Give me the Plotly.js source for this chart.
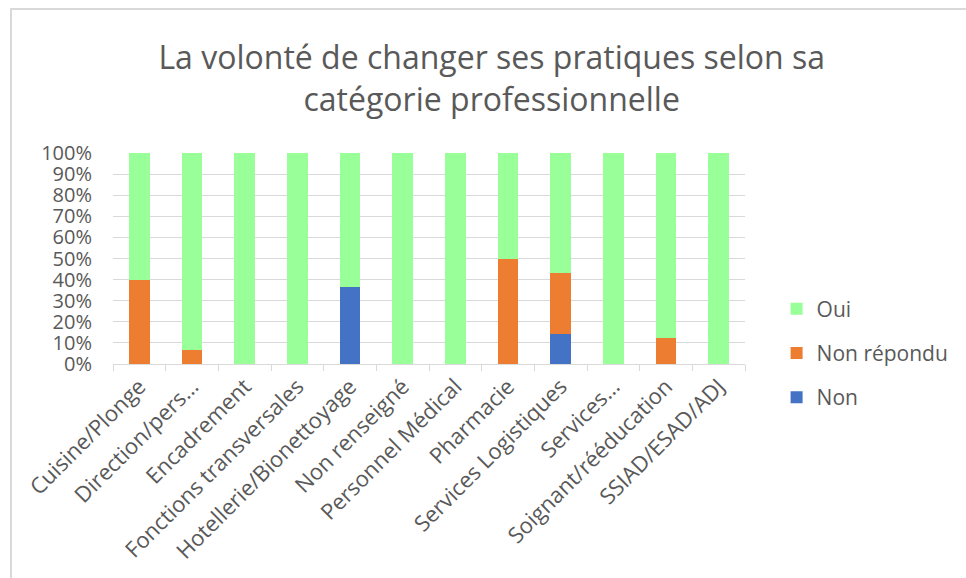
<!DOCTYPE html>
<html>
<head>
<meta charset="utf-8">
<script src="https://cdn.plot.ly/plotly-3.0.1.min.js"></script>
<style>
html,body{margin:0;padding:0;background:#fff;}
#wrap{position:relative;width:966px;height:578px;overflow:hidden;}
#chart{position:absolute;left:0;top:0;width:966px;height:578px;}
#frame{position:absolute;left:10px;top:8px;width:1000px;height:600px;border-left:2px solid #d9d9d9;border-top:2px solid #d9d9d9;pointer-events:none;}
</style>
</head>
<body>
<div id="wrap"><div id="chart"></div><div id="frame"></div></div>
<script>
const categories = ["Cuisine/Plonge","Direction/pers…","Encadrement","Fonctions transversales","Hotellerie/Bionettoyage","Non renseigné","Personnel Médical","Pharmacie","Services Logistiques","Services…","Soignant/rééducation","SSIAD/ESAD/ADJ"];
const nonValues        = [0, 0, 0, 0, 36.4, 0, 0, 0, 14.3, 0, 0, 0];
const nonReponduValues = [40, 6.7, 0, 0, 0, 0, 0, 50, 28.6, 0, 12.5, 0];
const ouiValues        = [60, 93.3, 100, 100, 63.6, 100, 100, 50, 57.1, 100, 87.5, 100];
const yTickVals = [0,10,20,30,40,50,60,70,80,90,100];
const yTickText = ["0%","10%","20%","30%","40%","50%","60%","70%","80%","90%","100%"];

const FONT = "Open Sans, Noto Sans, sans-serif";
const GREY = "#595959";

const traces = [
  {name:"Non", x:categories, y:nonValues, type:"bar", marker:{color:"#4472C4"}, legendgroup:"c", legendrank:3},
  {name:"Non répondu", x:categories, y:nonReponduValues, type:"bar", marker:{color:"#ED7D31"}, legendgroup:"b", legendrank:2},
  {name:"Oui", x:categories, y:ouiValues, type:"bar", marker:{color:"#99FF99"}, legendgroup:"a", legendrank:1}
];

const layout = {
  width:966, height:578,
  margin:{l:113, r:212, t:153, b:214},
  paper_bgcolor:"#fff", plot_bgcolor:"#fff",
  barmode:"stack", bargap:0.61,
  font:{family:FONT, color:GREY},
  title:{text:"La volonté de changer ses pratiques selon sa<br>catégorie professionnelle",
         font:{family:FONT, size:32, color:GREY},
         x:0.509, xref:"container", xanchor:"center",
         y:1-69/578, yref:"container", yanchor:"top"},
  xaxis:{type:"category", tickangle:-45, tickfont:{size:22, color:GREY},
         showline:true, linecolor:"#d9d9d9", linewidth:1,
         ticks:"outside", tickson:"boundaries", ticklen:6, tickcolor:"#d9d9d9",
         showgrid:false, automargin:false},
  yaxis:{range:[0,100], tickmode:"array", tickvals:yTickVals, ticktext:yTickText, tickfont:{size:20, color:GREY},
         ticklabelstandoff:20,
         showgrid:true, gridcolor:"#d9d9d9", gridwidth:1, zeroline:false, showline:false,
         ticks:"", automargin:false},
  showlegend:true,
  legend:{x:1.05, xanchor:"left", y:0.052, yanchor:"middle", traceorder:"grouped",
          tracegroupgap:14, font:{size:21, color:GREY}, bgcolor:"rgba(0,0,0,0)"}
};

Plotly.newPlot("chart", traces, layout, {displayModeBar:false, staticPlot:true});
</script>
</body>
</html>
